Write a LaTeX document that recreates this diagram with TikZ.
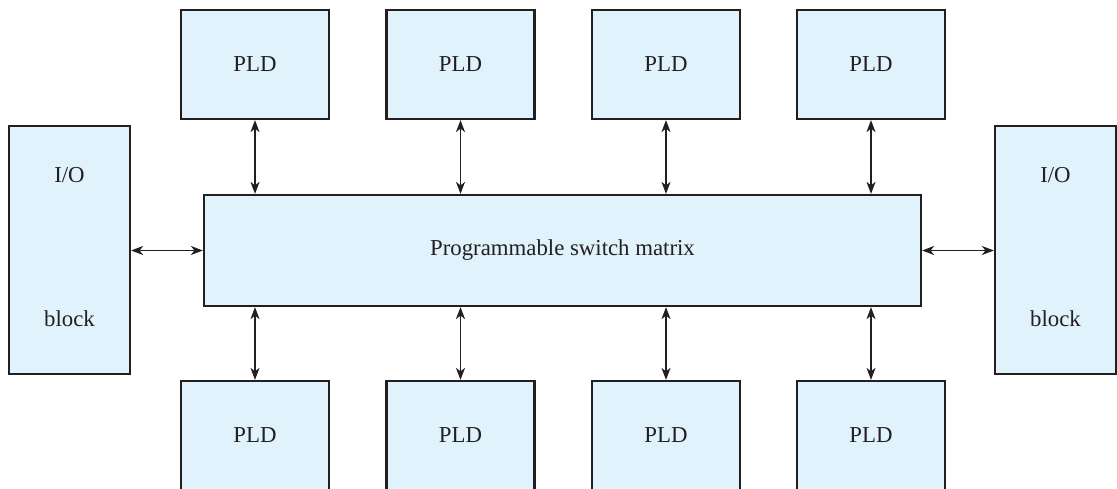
\documentclass[tikz,border=0pt]{standalone}
\usepackage{fontspec}
\setmainfont{Liberation Serif}
\usetikzlibrary{arrows.meta}
\definecolor{boxfill}{HTML}{E0F2FC}
\definecolor{ink}{HTML}{231F20}
\begin{document}
\begin{tikzpicture}[x=1pt,y=-1pt,
  box/.style={draw=ink,line width=2.2pt,fill=boxfill,inner sep=0pt,text=ink,
    font=\fontsize{22.8}{26}\selectfont},
  pld/.style={box,minimum width=148pt,minimum height=109pt},
  lbl/.style={text=ink,inner sep=0pt,font=\fontsize{22.8}{26}\selectfont},
  link/.style={draw=ink,line width=1.5pt,{Stealth[length=12pt,width=9pt,inset=3.5pt]}-{Stealth[length=12pt,width=9pt,inset=3.5pt]}}]
\useasboundingbox (0,0) rectangle (1117,489);
\clip (0,0) rectangle (1117,489);
% switch matrix
\node[box,minimum width=717pt,minimum height=111pt] (m) at (562.5,250.5) {Programmable switch matrix};
% I/O blocks
\node[box,minimum width=121pt,minimum height=248pt] (iol) at (69.5,250) {};
\node[box,minimum width=121pt,minimum height=248pt] (ior) at (1055.5,250) {};
\node[lbl] (iolt) at (69.5,175) {I/O};
\node[lbl] (iolb) at (69.5,319) {block};
\node[lbl] (iort) at (1055.5,175) {I/O};
\node[lbl] (iorb) at (1055.5,319) {block};
% PLDs
\foreach \i/\x in {1/255,2/460.5,3/666,4/871}{
  \node[pld] (t\i) at (\x,64.5) {PLD};
  \node[pld] (b\i) at (\x,435.5) {PLD};
  \draw[link] (t\i.south) -- (t\i.south |- m.north);
  \draw[link] (b\i.north) -- (b\i.north |- m.south);
}
\draw[link] (iol.east |- m.west) -- (m.west);
\draw[link] (m.east) -- (ior.west |- m.east);
\end{tikzpicture}
\end{document}
